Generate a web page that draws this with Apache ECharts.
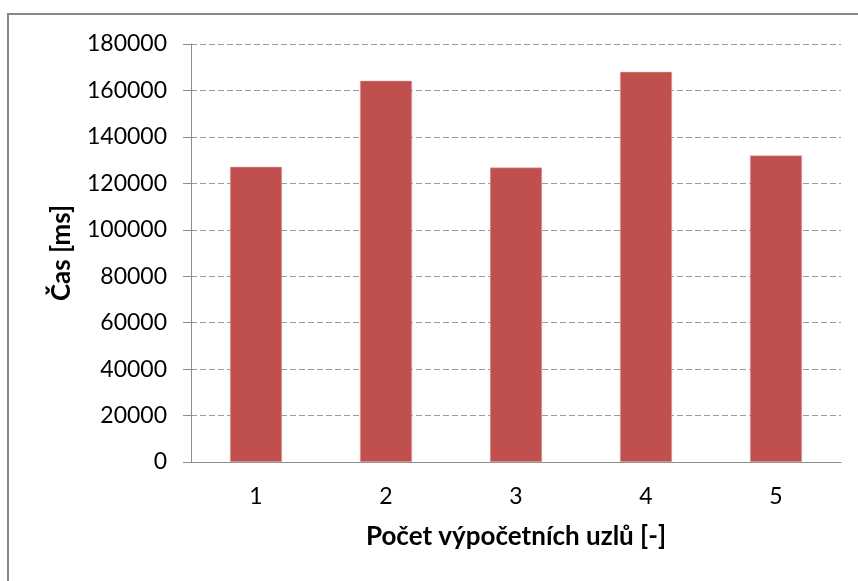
<!DOCTYPE html>
<html>
<head>
<meta charset="utf-8">
<script src="https://cdn.jsdelivr.net/npm/echarts@6/dist/echarts.min.js"></script>
<style>
html, body { margin: 0; padding: 0; background: #fff; }
#main { width: 858px; height: 581px; }
</style>
</head>
<body>
<div id="main"></div>
<script>
// počet uzlů a naměřené časy
var uzly = ['1', '2', '3', '4', '5'];
var casy = [127100, 164200, 126800, 168000, 132000];
var yTicks = [0, 180000, 20000]; // min, max, krok

window.onload = function(){
    var myChart = echarts.init(document.getElementById('main'));
    var fontName = 'Lato';
    var option = {
        backgroundColor: '#fff',
        animation: false,
        graphic: [{
            type: 'rect',
            shape: { x: 8, y: 14, width: 860, height: 600 },
            style: { fill: 'none', stroke: '#878787', lineWidth: 2 }
        }],
        grid: { left: 191, right: 17, top: 44, bottom: 119 },
        xAxis: {
            type: 'category',
            data: uzly,
            name: 'Počet výpočetních uzlů [-]',
            nameLocation: 'middle',
            nameGap: 62,
            nameTextStyle: { fontFamily: fontName, fontWeight: 'bold', fontSize: 26, color: '#000' },
            axisLine: { lineStyle: { color: '#8c8c8c', width: 1 } },
            axisTick: { length: 8, lineStyle: { color: '#8c8c8c' } },
            axisLabel: { fontFamily: fontName, fontSize: 23, color: '#000', margin: 23 }
        },
        yAxis: {
            type: 'value',
            min: yTicks[0],
            max: yTicks[1],
            interval: yTicks[2],
            name: 'Čas [ms]',
            nameLocation: 'middle',
            nameGap: 116,
            nameTextStyle: { fontFamily: fontName, fontWeight: 'bold', fontSize: 26, color: '#000' },
            axisLine: { show: true, lineStyle: { color: '#8c8c8c', width: 1 } },
            axisTick: { show: true, length: 8, lineStyle: { color: '#8c8c8c' } },
            axisLabel: {
                fontFamily: fontName, fontSize: 23, color: '#000', margin: 24,
                formatter: function(v){ return String(v); }
            },
            splitLine: { lineStyle: { color: '#9a9a9a', type: [6, 3], width: 1 } }
        },
        series: [{
            type: 'bar',
            data: casy,
            barWidth: '40%',
            itemStyle: { color: '#C0504D', borderColor: '#e6b0ae', borderWidth: 0.5 }
        }]
    };
    myChart.setOption(option);
};
</script>
</body>
</html>
